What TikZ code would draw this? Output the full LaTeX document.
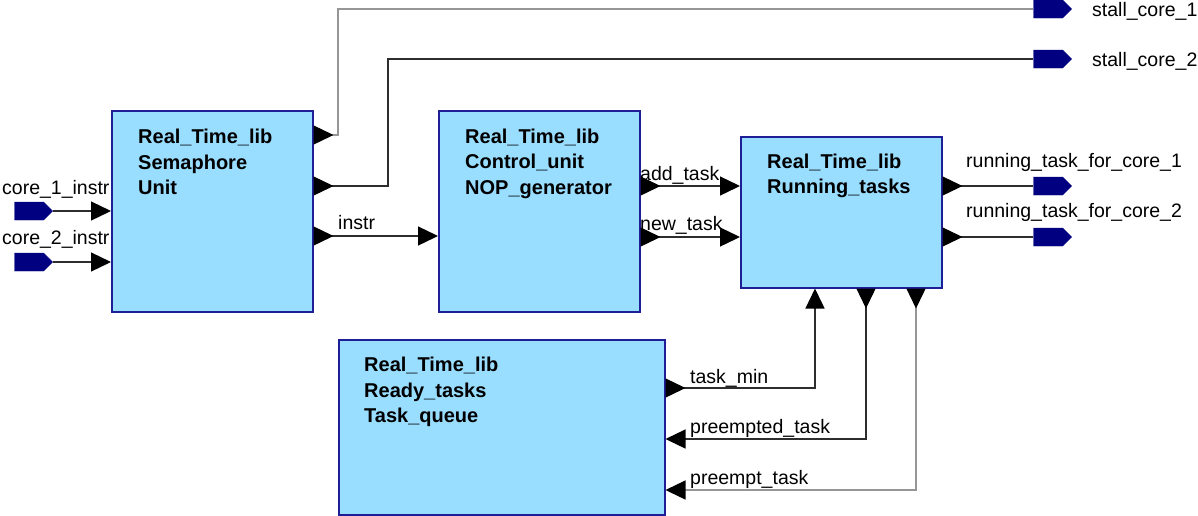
\documentclass[tikz,border=0pt]{standalone}
\usepackage{fontspec}
\setmainfont{Liberation Sans}
\usetikzlibrary{arrows.meta,shapes.symbols,calc}

\definecolor{blockfill}{RGB}{153,221,255}
\definecolor{blockedge}{RGB}{30,30,150}
\definecolor{portfill}{RGB}{0,0,128}
\definecolor{wiredark}{RGB}{45,45,45}
\definecolor{wirelight}{RGB}{150,150,150}

\tikzset{
  x=1pt, y=-1pt,
  block/.style={draw=blockedge, fill=blockfill, line width=1.5pt, inner sep=0pt, anchor=north west},
  blocktext/.style={font=\fontsize{20}{24}\selectfont\bfseries, anchor=base west, inner sep=0pt},
  sig/.style={font=\fontsize{19.5}{23}\selectfont, anchor=base west, inner sep=0pt},
  pin/.style={shape=signal, signal to=east, fill=portfill, draw=portfill, line width=0.4pt,
              minimum width=38pt, minimum height=18pt, inner sep=0pt},
  wire/.style={line width=1.3pt, draw=wiredark},
  intip/.tip={Triangle[length=20pt, width=19pt, color=black]},
  outtip/.tip={Triangle[reversed, length=20pt, width=19pt, color=black]},
}

\begin{document}
\begin{tikzpicture}
\useasboundingbox (0,0) rectangle (1198,515);

% signal names
\node[sig] (l1) at (2,194) {core\_1\_instr};
\node[sig] (l2) at (2,244) {core\_2\_instr};
\node[sig] (l3) at (338,229) {instr};
\node[sig] (l4) at (1092,16) {stall\_core\_1};
\node[sig] (l5) at (1092,66) {stall\_core\_2};
\node[sig] (l6) at (640,180) {add\_task};
\node[sig] (l7) at (640,230) {new\_task};
\node[sig] (l8) at (966,167) {running\_task\_for\_core\_1};
\node[sig] (l9) at (966,217) {running\_task\_for\_core\_2};
\node[sig] (l10) at (690,383) {task\_min};
\node[sig] (l11) at (690,433) {preempted\_task};
\node[sig] (l12) at (690,484) {preempt\_task};

% blocks
\node[block, minimum width=201pt, minimum height=201pt] (sem) at (111,110) {};
\node[block, minimum width=201pt, minimum height=201pt] (ctl) at (438,110) {};
\node[block, minimum width=201pt, minimum height=151pt] (run) at (740,136) {};
\node[block, minimum width=326pt, minimum height=175pt] (rdy) at (338,339) {};

\node[blocktext] (s1) at (138,143) {Real\_Time\_lib};
\node[blocktext] (s2) at (138,169) {Semaphore};
\node[blocktext] (s3) at (138,194) {Unit};
\node[blocktext] (c1) at (465,143) {Real\_Time\_lib};
\node[blocktext] (c2) at (465,168) {Control\_unit};
\node[blocktext] (c3) at (465,194) {NOP\_generator};
\node[blocktext] (r1) at (767,168) {Real\_Time\_lib};
\node[blocktext] (r2) at (767,193) {Running\_tasks};
\node[blocktext] (q1) at (364,371) {Real\_Time\_lib};
\node[blocktext] (q2) at (364,397) {Ready\_tasks};
\node[blocktext] (q3) at (364,422) {Task\_queue};

% ports
\node[pin] (pc1) at (29,211) {};
\node[pin] (pc2) at (29,262) {};
\node[pin] (ps1) at (1048,9) {};
\node[pin] (ps2) at (1048,59) {};
\node[pin] (pr1) at (1048,186) {};
\node[pin] (pr2) at (1048,237) {};

\coordinate (k1) at (338,0);
\coordinate (k2) at (388,0);

% wires
\draw[wire, -intip] (pc1.east) -- (pc1.east -| sem.west);
\draw[wire, -intip] (pc2.east) -- (pc2.east -| sem.west);
\draw[wire, draw=wirelight, outtip-] ([yshift=-25pt]sem.north east) -| (k1 |- ps1.west) -- (ps1.west);
\draw[wire, outtip-] ([yshift=-76pt]sem.north east) -| (k2 |- ps2.west) -- (ps2.west);
\draw[wire, outtip-intip] ([yshift=-126pt]sem.north east) -- ([yshift=-126pt]sem.north east -| ctl.west);
\draw[wire, outtip-intip] ([yshift=-76pt]ctl.north east) -- ([yshift=-76pt]ctl.north east -| run.west);
\draw[wire, outtip-intip] ([yshift=-127pt]ctl.north east) -- ([yshift=-127pt]ctl.north east -| run.west);
\draw[wire, outtip-] (pr1.west -| run.east) -- (pr1.west);
\draw[wire, outtip-] (pr2.west -| run.east) -- (pr2.west);
\draw[wire, outtip-intip] ([yshift=-49pt]rdy.north east) -| ([xshift=75pt]run.south west);
\draw[wire, outtip-intip] ([xshift=126pt]run.south west) |- ([yshift=-100pt]rdy.north east);
\draw[wire, draw=wirelight, outtip-intip] ([xshift=176pt]run.south west) |- ([yshift=-151pt]rdy.north east);
\end{tikzpicture}
\end{document}
